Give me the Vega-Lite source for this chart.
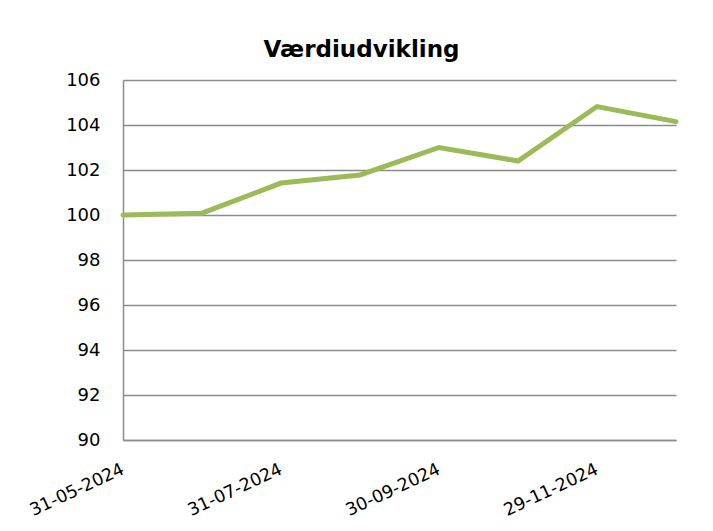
{
  "$schema": "https://vega.github.io/schema/vega-lite/v6.json",
  "width": 553,
  "height": 360,
  "autosize": "none",
  "padding": {"left": 123, "top": 80, "right": 37, "bottom": 91},
  "background": "white",
  "title": {
    "text": "Værdiudvikling",
    "font": "DejaVu Sans",
    "fontSize": 23,
    "fontWeight": "bold",
    "color": "black",
    "anchor": "middle",
    "dx": -38,
    "offset": 9
  },
  "data": {
    "values": [
      {"dato": "31-05-2024", "vaerdi": 100.0},
      {"dato": "28-06-2024", "vaerdi": 100.08},
      {"dato": "31-07-2024", "vaerdi": 101.42},
      {"dato": "30-08-2024", "vaerdi": 101.78},
      {"dato": "30-09-2024", "vaerdi": 103.0},
      {"dato": "31-10-2024", "vaerdi": 102.4},
      {"dato": "29-11-2024", "vaerdi": 104.82},
      {"dato": "31-12-2024", "vaerdi": 104.15}
    ]
  },
  "mark": {"type": "line", "color": "#9BBB59", "strokeWidth": 5, "strokeCap": "round", "strokeJoin": "miter"},
  "encoding": {
    "x": {
      "field": "dato",
      "type": "ordinal",
      "sort": null,
      "scale": {"type": "point", "padding": 0},
      "axis": {
        "title": null,
        "values": ["31-05-2024", "31-07-2024", "30-09-2024", "29-11-2024"],
        "labelAngle": -25,
        "labelAlign": "right",
        "labelBaseline": "top",
        "labelFont": "DejaVu Sans",
        "labelFontSize": 17.5,
        "labelColor": "black",
        "labelPadding": 20,
        "labelOffset": -4,
        "ticks": false,
        "domainColor": "#8c8c8c",
        "domainWidth": 1.5,
        "grid": false
      }
    },
    "y": {
      "field": "vaerdi",
      "type": "quantitative",
      "scale": {"domain": [90, 106], "zero": false, "nice": false},
      "axis": {
        "title": null,
        "values": [90, 92, 94, 96, 98, 100, 102, 104, 106],
        "labelFont": "DejaVu Sans",
        "labelFontSize": 18,
        "labelColor": "black",
        "labelPadding": 23,
        "ticks": false,
        "domainColor": "#8c8c8c",
        "domainWidth": 1.5,
        "grid": true,
        "gridColor": "#8c8c8c",
        "gridWidth": 1.5
      }
    }
  },
  "config": {"view": {"stroke": null}}
}
